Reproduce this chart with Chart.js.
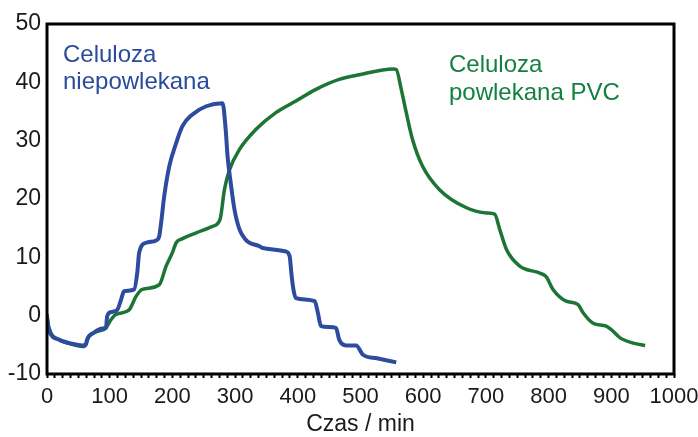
<!DOCTYPE html>
<html>
<head>
<meta charset="utf-8">
<script src="https://cdn.jsdelivr.net/npm/chart.js@4"></script>
<style>
  body { margin: 0; background: #fff; }
  #wrap { width: 698px; height: 437px; }
</style>
</head>
<body>
<div id="wrap"><canvas id="chart" width="698" height="437"></canvas></div>
<script>
// Czas / min  vs  signal, two samples
var blueX = [0, 3, 19, 40, 56, 62, 64, 75, 88, 94, 96, 102, 112, 118, 123, 139, 144, 147, 158, 174, 179, 182, 187, 195, 206, 216, 232, 254, 280, 285, 288, 293, 299, 307, 317, 323, 339, 344, 381, 387, 390, 393, 397, 427, 432, 437, 461, 466, 477, 493, 504, 526, 557];
var blueY = [-0.5, -2.5, -4.1, -4.8, -5.1, -5.0, -4.1, -2.9, -2.2, -2.1, -0.1, 0.6, 1.0, 2.7, 4.2, 4.5, 7.4, 10.8, 12.5, 12.9, 13.6, 15.9, 20.5, 25.6, 29.6, 32.5, 34.5, 35.9, 36.4, 31.9, 27.3, 22.8, 18.2, 14.8, 13.0, 12.5, 11.9, 11.6, 11.0, 10.2, 7.0, 4.5, 3.0, 2.5, 0.5, -1.8, -2.1, -4.1, -5.1, -5.1, -6.7, -7.3, -8.0];

var greenX = [0, 3, 19, 40, 59, 67, 80, 94, 102, 110, 131, 142, 152, 179, 190, 200, 206, 216, 238, 264, 276, 283, 291, 307, 333, 365, 397, 429, 466, 498, 552, 557, 565, 573, 583, 599, 626, 669, 701, 714, 722, 733, 754, 786, 796, 807, 828, 847, 855, 871, 892, 900, 914, 935, 954];
var greenY = [0.3, -2.0, -4.1, -4.9, -5.3, -3.5, -2.7, -2.1, -0.7, 0.2, 1.0, 3.3, 4.5, 5.3, 8.5, 10.8, 12.5, 13.2, 14.2, 15.3, 16.5, 21.6, 25.0, 28.5, 31.9, 34.8, 36.8, 38.8, 40.5, 41.3, 42.3, 42.2, 38.8, 34.8, 30.2, 25.6, 21.6, 18.5, 17.6, 17.4, 14.8, 11.3, 8.5, 7.3, 6.7, 4.5, 2.5, 1.9, 0.5, -1.3, -1.8, -2.4, -3.8, -4.7, -5.1];

var xMin = 0, xMax = 1000, yMin = -10, yMax = 50;

var blueColor = '#2d4b9f';
var greenColor = '#1c7534';
var fontFamily = '"Liberation Sans", Arial, sans-serif';

function toPoints(xs, ys) {
    return xs.map(function(x, i) { return { x: x, y: ys[i] }; });
}

// frame + series labels
var framePlugin = {
    id: 'frame',
    afterDraw: function(chart) {
        var a = chart.chartArea;
        var ctx = chart.ctx;
        ctx.save();
        ctx.strokeStyle = '#000';
        ctx.lineWidth = 3;
        ctx.strokeRect(a.left, a.top, a.right - a.left, a.bottom - a.top);

        ctx.font = '24px ' + fontFamily;
        ctx.textBaseline = 'alphabetic';
        ctx.fillStyle = '#2a4a9c';
        ctx.fillText('Celuloza', a.left + 16, a.top + 38);
        ctx.fillText('niepowlekana', a.left + 16, a.top + 65);
        ctx.fillStyle = '#148040';
        ctx.fillText('Celuloza', a.left + 402, a.top + 48);
        ctx.fillText('powlekana PVC', a.left + 402, a.top + 76);
        ctx.restore();
    }
};

new Chart(document.getElementById('chart'), {
    type: 'line',
    data: {
        datasets: [{
            label: 'Celuloza niepowlekana',
            data: toPoints(blueX, blueY),
            borderColor: blueColor,
            borderWidth: 4,
            pointRadius: 0,
            cubicInterpolationMode: 'monotone'
        }, {
            label: 'Celuloza powlekana PVC',
            data: toPoints(greenX, greenY),
            borderColor: greenColor,
            borderWidth: 3.5,
            pointRadius: 0,
            cubicInterpolationMode: 'monotone'
        }]
    },
    options: {
        responsive: false,
        animation: false,
        layout: { padding: { top: 24, right: 24, left: 0, bottom: 0 } },
        plugins: {
            legend: { display: false },
            tooltip: { enabled: false }
        },
        scales: {
            x: {
                type: 'linear',
                min: xMin,
                max: xMax,
                afterFit: function(s) {
                    s.height = 63;
                    s.paddingLeft = 0;
                    s.paddingRight = 0;
                },
                grid: {
                    drawOnChartArea: false,
                    drawTicks: true,
                    tickLength: 4,
                    tickWidth: 2,
                    tickColor: '#000'
                },
                border: { display: false },
                ticks: {
                    stepSize: 12.5,
                    autoSkip: false,
                    maxRotation: 0,
                    padding: 6,
                    color: '#1a1a1a',
                    font: { family: fontFamily, size: 22 },
                    callback: function(value) {
                        return value % 100 === 0 ? value : '';
                    }
                },
                title: {
                    display: true,
                    text: 'Czas / min',
                    color: '#1a1a1a',
                    padding: { top: 0, bottom: -1 },
                    font: { family: fontFamily, size: 23 }
                }
            },
            y: {
                min: yMin,
                max: yMax,
                afterFit: function(s) { s.width = 47; },
                grid: { display: false, drawTicks: false },
                border: { display: false },
                ticks: {
                    stepSize: 10,
                    padding: 6,
                    color: '#1a1a1a',
                    font: { family: fontFamily, size: 23 }
                }
            }
        }
    },
    plugins: [framePlugin]
});
</script>
</body>
</html>
